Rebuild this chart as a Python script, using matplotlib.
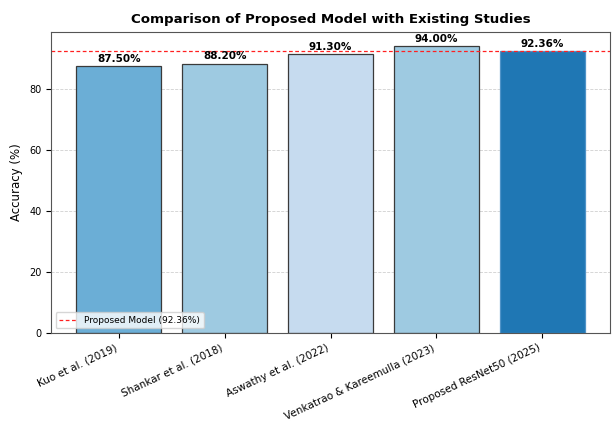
import matplotlib
matplotlib.use("Agg")
import matplotlib.pyplot as plt

studies = ["Kuo et al. (2019)", "Shankar et al. (2018)", "Aswathy et al. (2022)",
           "Venkatrao & Kareemulla (2023)", "Proposed ResNet50 (2025)"]
accuracy = [87.50, 88.20, 91.30, 94.00, 92.36]
bar_colors = ["#6baed6", "#9ecae1", "#c6dbef", "#9ecae1", "#1f77b4"]
proposed = 92.36

fig = plt.figure(figsize=(6.15, 4.24), dpi=100)
ax = fig.add_axes([0.083, 0.215, 0.909, 0.71])

bars = ax.bar(studies, accuracy, color=bar_colors, width=0.8)
for b in bars[:-1]:
    b.set_edgecolor("#3a3a3a")
    b.set_linewidth(0.9)
bars[-1].set_edgecolor("#4f93c8")
bars[-1].set_linewidth(0.9)

for b, v in zip(bars, accuracy):
    ax.text(b.get_x() + b.get_width() / 2, v + 0.8, f"{v:.2f}%",
            ha="center", va="bottom", fontsize=7.5, fontweight="bold")

ax.axhline(proposed, color="#ff2020", linestyle=(0, (3, 2)), linewidth=0.9,
           label=f"Proposed Model ({proposed:.2f}%)")

ax.set_ylim(0, 98.7)
ax.set_title("Comparison of Proposed Model with Existing Studies",
             fontsize=9.6, fontweight="bold")
ax.set_ylabel("Accuracy (%)", fontsize=8.5)
ax.tick_params(axis="y", labelsize=7)
ax.tick_params(axis="x", labelsize=7.5)
plt.setp(ax.get_xticklabels(), rotation=25, ha="right")
ax.grid(axis="y", linestyle="--", alpha=0.6, linewidth=0.6)
ax.set_axisbelow(True)
for s in ax.spines.values():
    s.set_color("#555555")
ax.legend(loc="lower left", fontsize=6.5)

fig.savefig("out.png", dpi=100)
